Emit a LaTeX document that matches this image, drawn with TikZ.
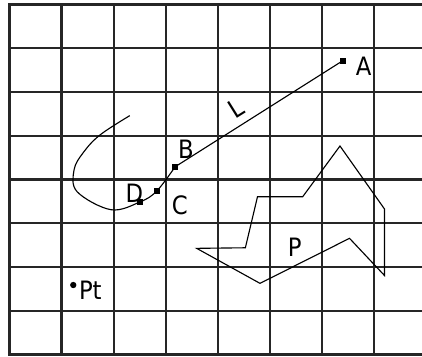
\documentclass[tikz,border=0pt]{standalone}
\usepackage{fontspec}
\setmainfont{DejaVu Sans Condensed}
\usetikzlibrary{positioning}

\begin{document}
\begin{tikzpicture}[x=1.302cm,y=1.094cm,font=\fontsize{18}{20}\selectfont,
  gridline/.style={line width=1.5pt,line cap=rect,black!85},
  thinline/.style={line width=0.8pt},
  sqpt/.style={fill,inner sep=0pt,minimum size=4.5pt},
  rdpt/.style={circle,fill,inner sep=0pt,minimum size=4.5pt}]
\useasboundingbox (-0.182,-0.034) rectangle (7.922,8.103);
\foreach \i in {0,...,7}{\draw[gridline] (\i,0) -- (\i,8);}
\foreach \j in {0,...,8}{\draw[gridline] (0,\j) -- (8,\j);}
% points on the line and curve
\node[sqpt] (A) at (6.40,6.715) {};
\node[sqpt] (B) at (3.18,4.29) {};
\node[sqpt] (C) at (2.83,3.74) {};
\node[sqpt] (D) at (2.51,3.49) {};
\node (la) at (6.80,6.58) {A};
\node (lb) at (3.39,4.70) {B};
\node (lc) at (3.27,3.42) {C};
\node (ld) at (2.40,3.69) {D};
\node[rotate=32] (ll) at (4.35,5.63) {L};
\coordinate (c1) at (1.95,3.31);
\coordinate (c2) at (1.30,3.72);
\coordinate (c3) at (1.24,4.22);
\coordinate (c4) at (1.42,4.62);
\coordinate (c5) at (1.74,5.02);
\coordinate (c6) at (2.31,5.46);
\draw[thinline] (A.center) -- (B.center);
\draw[thinline] plot[smooth,tension=0.6] coordinates {(B.center) (C.center) (D.center) (c1) (c2) (c3) (c4) (c5) (c6)};
% polygon P
\draw[thinline] (3.595,2.427) -- (4.53,2.44) -- (4.763,3.607) -- (5.631,3.607) -- (6.347,4.766)
  -- (7.202,3.326) -- (7.202,1.806) -- (6.53,2.656) -- (4.811,1.627) -- cycle;
\node (lp) at (5.48,2.46) {P};
% single point
\node[rdpt] (pt) at (1.225,1.589) {};
\node[anchor=west,inner sep=0pt] (lpt) at (1.33,1.48) {Pt};
\end{tikzpicture}
\end{document}
